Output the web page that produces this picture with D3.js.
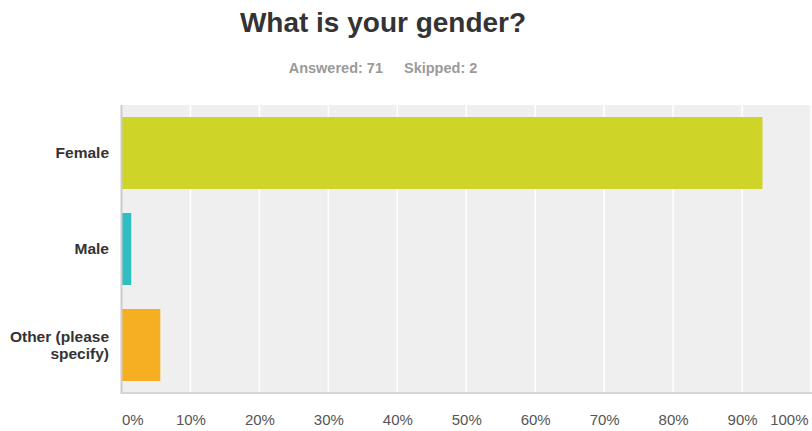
<!DOCTYPE html>
<html><head><meta charset="utf-8">
<script src="https://cdn.jsdelivr.net/npm/d3@7"></script>
<style>body{margin:0;background:#fff;}svg{display:block;font-family:"Liberation Sans",Arial,Helvetica,sans-serif;}</style>
</head><body>
<svg id="c" width="812" height="431"></svg>
<script>
const title = "What is your gender?";
const subtitle = ["Answered: 71", "Skipped: 2"];
const categories = ["Female", "Male", "Other (please specify)"];
const categoryLines = [["Female"], ["Male"], ["Other (please", "specify)"]];
const values = [0.9296, 0.0141, 0.0563];
const colors = ["#cfd428", "#30bec3", "#f6ae23"];
const ticks = [0, 0.1, 0.2, 0.3, 0.4, 0.5, 0.6, 0.7, 0.8, 0.9, 1.0];

(function () {
const svg = d3.select("#c");
const pLeft = 121.5, pRight = 811, pTop = 105, pBottom = 393;

svg.append("text").attr("x", 383).attr("y", 32).attr("text-anchor", "middle")
  .attr("font-size", 28).attr("font-weight", "bold").attr("fill", "#333").text(title);
const sub = svg.append("text").attr("x", 383).attr("y", 72.5).attr("text-anchor", "middle")
  .attr("font-size", 14.5).attr("font-weight", "bold").attr("fill", "#9a9a9a");
sub.append("tspan").text(subtitle[0]);
sub.append("tspan").attr("dx", 21).text(subtitle[1]);

const x = d3.scaleLinear().domain([0, 1]).range([pLeft, pRight]);
const y = d3.scaleBand().domain(categories).range([pTop, pBottom]).paddingInner(0.25).paddingOuter(0.125);

svg.append("rect").attr("x", pLeft).attr("y", pTop).attr("width", 812 - pLeft).attr("height", pBottom - pTop).attr("fill", "#efefef");

svg.append("g").selectAll("line").data(ticks.slice(1)).join("line")
  .attr("x1", d => x(d)).attr("x2", d => x(d)).attr("y1", pTop).attr("y2", pBottom)
  .attr("stroke", "#fff").attr("stroke-width", 1.5);

svg.append("g").selectAll("rect").data(categories).join("rect")
  .attr("x", x(0)).attr("y", d => y(d)).attr("height", y.bandwidth())
  .attr("width", (d, i) => x(values[i]) - x(0)).attr("fill", (d, i) => colors[i]);

svg.append("line").attr("x1", pLeft).attr("x2", pLeft).attr("y1", pTop).attr("y2", pBottom + 1).attr("stroke", "#cccccc").attr("stroke-width", 2);
svg.append("line").attr("x1", pLeft).attr("x2", 812).attr("y1", pBottom).attr("y2", pBottom).attr("stroke", "#d6d6d6").attr("stroke-width", 2);

const xAxis = d3.axisBottom(x).tickValues(ticks).tickFormat(d3.format(".0%")).tickSize(0).tickPadding(0);
const ax = svg.append("g").attr("transform", `translate(0,${pBottom})`).call(xAxis);
ax.select(".domain").remove();
ax.attr("font-family", null).attr("font-size", null);
ax.selectAll("text").attr("font-size", 15).attr("fill", "#555")
  .attr("y", 32).attr("dy", null)
  .attr("text-anchor", (d, i) => i === 0 ? "start" : (i === ticks.length - 1 ? "end" : "middle"))
  .attr("x", (d, i) => i === ticks.length - 1 ? 808 - x(d) : 0);

const lab = svg.append("g").selectAll("text").data(categories).join("text")
  .attr("x", 109).attr("text-anchor", "end").attr("font-size", 15.5).attr("font-weight", "bold").attr("fill", "#333");
lab.each(function(d, i) {
  const lines = categoryLines[i];
  const cy = y(d) + y.bandwidth() / 2;
  const lh = 17.5;
  const t = d3.select(this);
  lines.forEach((l, j) => {
    t.append("tspan").attr("x", 109).attr("y", cy + (j - (lines.length - 1) / 2) * lh).attr("dy", "0.35em").text(l);
  });
});
})();
</script>
</body></html>
